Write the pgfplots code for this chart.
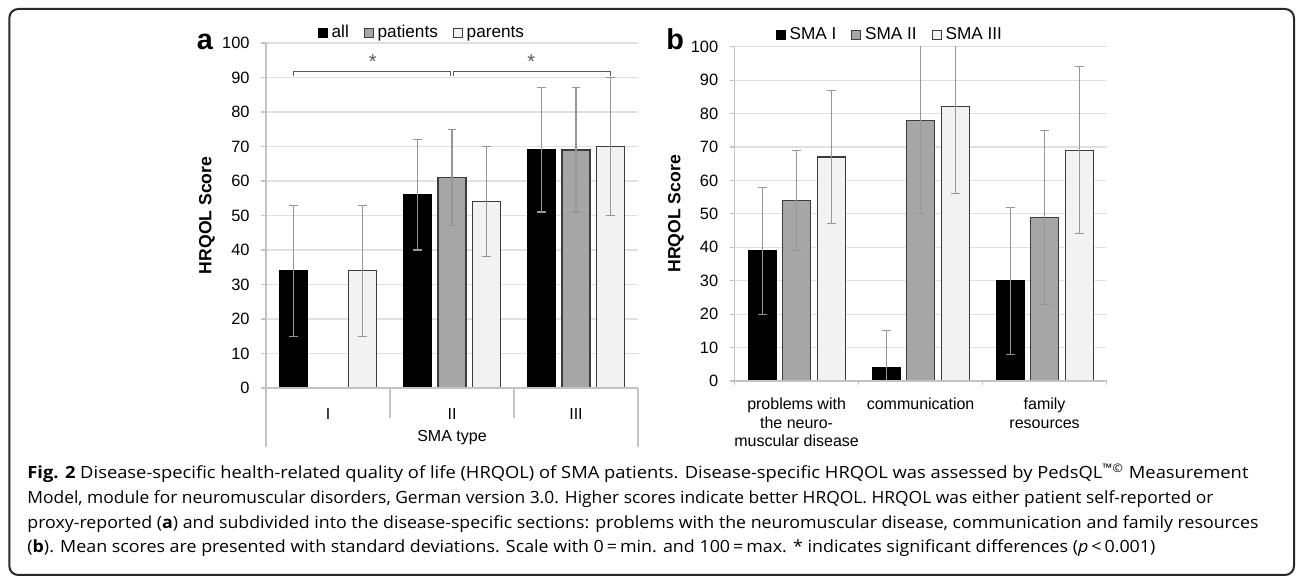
\documentclass[border=0pt]{standalone}
\usepackage{pgfplots}
\pgfplotsset{compat=1.18}
\usepackage{fontspec}
\usepackage{graphicx}
\setmainfont{Liberation Sans}
\newfontfamily\capfont{Open Sans}
\definecolor{gridc}{RGB}{222,224,230}
\definecolor{axisc}{RGB}{195,195,195}
\definecolor{barline}{RGB}{60,60,60}
\definecolor{midgray}{RGB}{166,166,166}
\definecolor{lightgrayb}{RGB}{242,242,242}
\definecolor{errc}{RGB}{150,150,150}
\definecolor{brc}{RGB}{90,90,90}
\definecolor{framec}{RGB}{40,40,40}
\newcommand\capA{\textbf{Fig. 2} Disease-specific health-related quality of life (HRQOL) of SMA patients. Disease-specific HRQOL was assessed by PedsQL\textsuperscript{™©} Measurement}
\newcommand\capB{Model, module for neuromuscular disorders, German version 3.0. Higher scores indicate better HRQOL. HRQOL was either patient self-reported or}
\newcommand\capC{proxy-reported (\textbf{a}) and subdivided into the disease-specific sections: problems with the neuromuscular disease, communication and family resources}
\newcommand\capD{(\textbf{b}). Mean scores are presented with standard deviations. Scale with 0\,=\,min. and 100\,=\,max. * indicates significant differences (\textit{p}\,<\,0.001)}
\newcommand\capline[2]{\resizebox{#1}{\height}{\capfont\fontsize{8.4}{12.5}\selectfont #2}}
\pgfplotsset{
  panel/.style={
    anchor=south west, scale only axis, width=186pt,
    xmin=-0.5, xmax=2.5, ymin=0, ymax=100,
    xtick={0,1,2}, ytick={0,10,...,100},
    xtick pos=left, ytick pos=left,
    ymajorgrids, grid style={gridc, line width=0.6pt},
    axis line style={draw=none},
    xtick style={draw=none},
    major tick length=2.5pt,
    ytick style={draw=axisc, line width=0.6pt, xshift=-2.5pt},
    tick label style={font=\fontsize{8.2}{9.6}\selectfont},
    yticklabel style={anchor=east, inner sep=0pt, xshift=-8pt},
    /pgf/number format/assume math mode=true,
    legend style={draw=none, fill=none, legend columns=-1,
      font=\fontsize{8.6}{10}\selectfont,
      /tikz/every even column/.append style={column sep=5.5pt}},
    error bars/y dir=both, error bars/y explicit,
    error bars/error mark=|,
    error bars/error bar style={errc, line width=0.55pt},
    error bars/error mark options={errc, line width=0.55pt, mark size=2.2pt},
  },
  sqlegend/.style={legend image code/.code={\draw[##1, line width=0.5pt] (0pt,-2.2pt) rectangle (4.4pt,2.2pt);}},
}
\begin{document}
\begin{tikzpicture}
\useasboundingbox (0,0) rectangle (648pt,288.5pt);
\draw[framec, line width=1pt, rounded corners=4.5pt] (4.65pt,1pt) rectangle (647pt,284pt);

% ---------------- panel a ----------------
\begin{axis}[panel, name=A, at={(133pt,94.5pt)}, height=172.5pt,
  ybar=3.25pt, bar width=14pt, sqlegend,
  xticklabels={I,II,III},
  xticklabel style={anchor=north, inner sep=0pt, yshift=-7.5pt, font=\fontsize{8}{9.25}\selectfont},
  legend style={at={(0.422,1.029)}, anchor=center},
]
\addplot[fill=black, draw=black, line width=0.6pt] coordinates {(0,34) +- (0,19) (1,56) +- (0,16) (2,69) +- (0,18)};
\addplot[fill=midgray, draw=barline, line width=0.6pt] coordinates {(1,61) +- (0,14) (2,69) +- (0,18)};
\addplot[fill=lightgrayb, draw=barline, line width=0.6pt] coordinates {(0,34) +- (0,19) (1,54) +- (0,16) (2,70) +- (0,20)};
\legend{all,patients,parents}
\draw[brc, line width=0.6pt] (axis cs:-0.278,90.4) -- (axis cs:-0.278,91.7) -- (axis cs:0.985,91.7) -- (axis cs:0.985,90.4);
\draw[brc, line width=0.6pt] (axis cs:1.015,90.4) -- (axis cs:1.015,91.7) -- (axis cs:2.278,91.7) -- (axis cs:2.278,90.4);
\node[brc, anchor=base, inner sep=0pt, font=\fontsize{10}{11}\selectfont] at (axis cs:0.36,92.6) {*};
\node[brc, anchor=base, inner sep=0pt, font=\fontsize{10}{11}\selectfont] at (axis cs:1.64,92.6) {*};
\end{axis}
\draw[axisc, line width=0.6pt] (133pt,267pt) -- (133pt,65pt);
\draw[axisc, line width=0.6pt] (133pt,94.5pt) -- (319pt,94.5pt);
\draw[axisc, line width=0.6pt] (319pt,94.5pt) -- (319pt,65pt);
\draw[axisc, line width=0.6pt] (195pt,94.5pt) -- (195pt,79.5pt);
\draw[axisc, line width=0.6pt] (257pt,94.5pt) -- (257pt,79.5pt);
\node[font=\fontsize{8}{9.6}\selectfont] at (226pt,69.5pt) {SMA type};
\node[anchor=base west, inner sep=0pt, font=\bfseries\fontsize{14.4}{16}\selectfont] at (98.2pt,263.9pt) {a};
\node[rotate=90, inner sep=0pt, font=\bfseries\fontsize{8.8}{10}\selectfont] at (103.5pt,180.8pt) {HRQOL Score};

% ---------------- panel b ----------------
\begin{axis}[panel, name=B, at={(367.3pt,98pt)}, height=167.15pt,
  ybar=3.25pt, bar width=14pt, sqlegend,
  xticklabels={{problems with\\the neuro-\\muscular disease},{communication},{family\\resources}},
  xticklabel style={anchor=north, align=center, inner sep=0pt, yshift=-5.8pt, font=\fontsize{8}{9.25}\selectfont},
  legend style={at={(0.42,1.035)}, anchor=center},
]
\addplot[fill=black, draw=black, line width=0.6pt] coordinates {(0,39) +- (0,19) (1,4) +- (0,11) (2,30) +- (0,22)};
\addplot[fill=midgray, draw=barline, line width=0.6pt] coordinates {(0,54) +- (0,15) (1,78) +- (0,28) (2,49) +- (0,26)};
\addplot[fill=lightgrayb, draw=barline, line width=0.6pt] coordinates {(0,67) +- (0,20) (1,82) +- (0,26) (2,69) +- (0,25)};
\legend{SMA I,SMA II,SMA III}
\end{axis}
\draw[axisc, line width=0.6pt] (367.3pt,265.15pt) -- (367.3pt,96pt);
\draw[axisc, line width=0.6pt] (367.3pt,98pt) -- (553.3pt,98pt);
\foreach \xx in {429.3pt,491.3pt,553.3pt} \draw[axisc, line width=0.6pt] (\xx,98pt) -- (\xx,96pt);
\node[anchor=base west, inner sep=0pt, font=\bfseries\fontsize{14.4}{16}\selectfont] at (333pt,263.6pt) {b};
\node[rotate=90, inner sep=0pt, font=\bfseries\fontsize{8.8}{10}\selectfont] at (338pt,181.6pt) {HRQOL Score};

% ---------------- caption ----------------
\begin{scope}[every node/.style={anchor=base west, inner sep=0pt}]
\node at (13.5pt,49.2pt) {\capline{610.5pt}{\capA}};
\node at (13.5pt,36.8pt) {\capline{593pt}{\capB}};
\node at (13.5pt,24.4pt) {\capline{615.5pt}{\capC}};
\node at (13.5pt,12pt) {\capline{564pt}{\capD}};
\end{scope}
\end{tikzpicture}
\end{document}
